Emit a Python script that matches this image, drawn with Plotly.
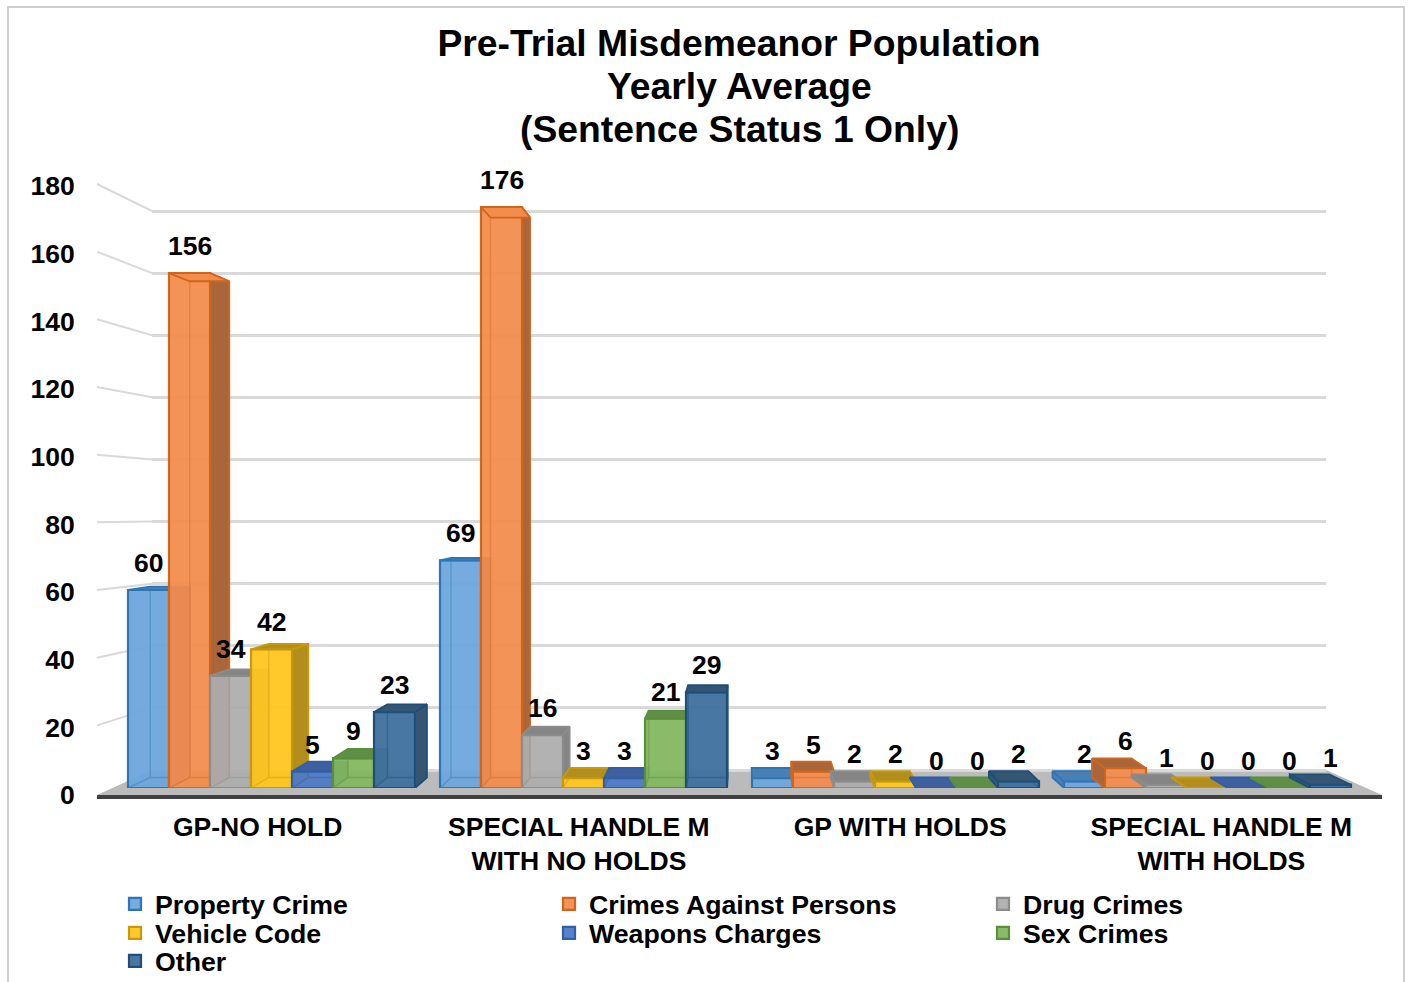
import plotly.graph_objects as go

# ---------- data ----------
categories = ["GP-NO HOLD", "SPECIAL HANDLE M<br>WITH NO HOLDS", "GP WITH HOLDS", "SPECIAL HANDLE M<br>WITH HOLDS"]
property_crime = [60, 69, 3, 2]
crimes_against_persons = [156, 176, 5, 6]
drug_crimes = [34, 16, 2, 1]
vehicle_code = [42, 3, 2, 0]
weapons_charges = [5, 3, 0, 0]
sex_crimes = [9, 21, 0, 0]
other = [23, 29, 2, 1]
series_names = ["Property Crime", "Crimes Against Persons", "Drug Crimes", "Vehicle Code",
                "Weapons Charges", "Sex Crimes", "Other"]
series_values = [property_crime, crimes_against_persons, drug_crimes, vehicle_code,
                 weapons_charges, sex_crimes, other]
y_ticks = list(range(0, 181, 20))
title_lines = ["Pre-Trial Misdemeanor Population", "Yearly Average", "(Sentence Status 1 Only)"]

# ---------- styles ----------
front_col = ["rgba(108,166,220,0.94)", "rgba(242,140,76,0.94)", "rgba(173,173,173,0.94)", "rgba(255,197,30,0.94)",
             "rgba(76,122,198,0.94)", "rgba(130,183,95,0.94)", "rgba(62,112,158,0.95)"]
edge_col = ["#2E75B6", "#D2651C", "#8C8C8C", "#C89A0A", "#2F5FA8", "#5A8F3C", "#1F4E79"]
side_col = ["#4A7FB5", "#A9663A", "#858585", "#B28E1E", "#3F5F9F", "#5F8F47", "#345673"]
W, H = 1409, 982
FONT = "Liberation Sans"
px = lambda v: v / W
py = lambda v: 1 - v / H

# planes of the fake 3-D box, in page pixels
WALL_X, WALL_Y = (152, 1326), (770, 211)
AXIS_X, AXIS_Y = (97, 1382), (795, 186)
BAR_X, BAR_Y = (115.5, 1363.5), (788, 194)
YMAX = 180
WALL_PAD = 5  # value units added around the wall axis so its 0 and 180 gridlines are drawn
bar_w = 41 / 312
depth = 0.036
vp_x = (745 - BAR_X[0]) / 312 - 0.5
vp_y = (788 - 497) / 3.3


def back(x, y):
    return x + depth * (vp_x - x), y + depth * (vp_y - y)


fig = go.Figure()
layout = dict(
    width=W, height=H, margin=dict(l=0, r=0, t=0, b=0, autoexpand=False),
    paper_bgcolor="white", plot_bgcolor="rgba(0,0,0,0)", barmode="overlay", hovermode=False,
    font=dict(family=FONT, color="black", weight=700),
)


def axes(n, xd, yd, xrange, yrange=(0, YMAX)):
    s = "" if n == 1 else str(n)
    layout[f"xaxis{s}"] = dict(domain=[px(xd[0]), px(xd[1])], range=xrange, visible=False, fixedrange=True,
                               anchor=f"y{s}")
    layout[f"yaxis{s}"] = dict(domain=[py(yd[0]), py(yd[1])], range=list(yrange), visible=False, fixedrange=True,
                               anchor=f"x{s}")
    return f"x{s}", f"y{s}"


# back wall gridlines (first subplot, lowest layer)
wall_scale = (WALL_Y[0] - WALL_Y[1]) / YMAX
xa, ya = axes(1, WALL_X,
              (WALL_Y[0] + WALL_PAD * wall_scale, WALL_Y[1] - WALL_PAD * wall_scale),
              [-0.5, 3.5], (-WALL_PAD, YMAX + WALL_PAD))
layout["yaxis"].update(visible=True, showgrid=True, gridcolor="#D9D9D9", gridwidth=2.5, zeroline=False,
                       showline=False, showticklabels=False, ticks="", tickmode="array", tickvals=y_ticks)
fig.add_trace(go.Scatter(x=[0, 3], y=[0, 0], mode="markers", marker=dict(opacity=0), showlegend=False,
                         xaxis=xa, yaxis=ya, hoverinfo="skip"))

# one subplot per series so each one paints over the previous one
annotations = []
for i, (name, vals) in enumerate(zip(series_names, series_values)):
    xa, ya = axes(i + 2, BAR_X, BAR_Y, [-0.5, 3.5])
    off = (i - 3.5) * bar_w
    lg = "legend" if i == 0 else f"legend{i + 1}"
    fig.add_trace(go.Bar(x=list(range(4)), y=vals, width=bar_w, offset=off, name=name, legend=lg,
                         marker=dict(color=front_col[i], line=dict(color=edge_col[i], width=2.2)),
                         xaxis=xa, yaxis=ya))
    sx, sy, tx, ty, hx, hy = [], [], [], [], [], []
    top_hi_x, top_hi_y = [], []
    for g, v in enumerate(vals):
        l, r = g + off, g + off + bar_w
        bl_b = back(l, 0)
        br_b = back(r, 0)
        bl_t = back(l, v)
        br_t = back(r, v)
        # visible side wall
        if br_b[0] > r:
            sx += [r, br_b[0], br_t[0], r, r, None]
            sy += [0, br_b[1], br_t[1], v, 0, None]
        if bl_b[0] < l:
            sx += [l, bl_b[0], bl_t[0], l, l, None]
            sy += [0, bl_b[1], bl_t[1], v, 0, None]
        # top face
        xs, ys = (tx, ty) if v < vp_y else (top_hi_x, top_hi_y)
        xs += [l, r, br_t[0], bl_t[0], l, None]
        ys += [v, v, br_t[1], bl_t[1], v, None]
        # hidden back edges
        hx += [l, bl_b[0], br_b[0], r, None, bl_b[0], bl_t[0], None, br_b[0], br_t[0], None]
        hy += [0, bl_b[1], br_b[1], 0, None, bl_b[1], bl_t[1], None, br_b[1], br_t[1], None]
        annotations.append(dict(x=(l + r) / 2, y=v, xref=xa, yref=ya, yshift=27, text=str(v), showarrow=False,
                                font=dict(size=26.5, family=FONT, color="black", weight=700)))
    common = dict(mode="lines", showlegend=False, hoverinfo="skip", xaxis=xa, yaxis=ya)
    fig.add_trace(go.Scatter(x=hx, y=hy, line=dict(color=edge_col[i], width=1.4), opacity=0.4, **common))
    if sx:
        fig.add_trace(go.Scatter(x=sx, y=sy, fill="toself", fillcolor=side_col[i],
                                 line=dict(color=edge_col[i], width=1.8), **common))
    if tx:
        fig.add_trace(go.Scatter(x=tx, y=ty, fill="toself", fillcolor=side_col[i],
                                 line=dict(color=edge_col[i], width=1.8), **common))
    if top_hi_x:
        fig.add_trace(go.Scatter(x=top_hi_x, y=top_hi_y, fill="toself", fillcolor=front_col[i],
                                 line=dict(color=edge_col[i], width=1.8), **common))

# tick plane: value labels, category labels, dark base line
xa, ya = axes(9, AXIS_X, AXIS_Y, [-0.5, 3.5])
layout["xaxis9"].update(visible=True, showgrid=False, zeroline=False, showline=True, linecolor="#404040", linewidth=3.5,
                        tickmode="array", tickvals=list(range(4)), ticktext=categories, ticks="outside", ticklen=5,
                        tickcolor="rgba(0,0,0,0)", tickfont=dict(size=26.5, family=FONT, color="black", weight=700))
layout["yaxis9"].update(visible=True, showgrid=False, zeroline=False, showline=False, tickmode="array",
                        tickvals=y_ticks, ticks="outside", ticklen=16, tickcolor="rgba(0,0,0,0)",
                        tickfont=dict(size=26.5, family=FONT, color="black", weight=700))
fig.add_trace(go.Scatter(x=[0, 3], y=[0, 0], mode="markers", marker=dict(opacity=0), showlegend=False,
                         xaxis=xa, yaxis=ya, hoverinfo="skip"))

# decoration: outer frame, floor, slanted grid lines on the side wall
shapes = [dict(type="path", xref="paper", yref="paper", layer="below",
               path=f"M{px(8)},{py(990)} L{px(8)},{py(7)} L{px(1404)},{py(7)} L{px(1404)},{py(990)}",
               line=dict(color="#CFCFCF", width=2)),
          dict(type="path", xref="paper", yref="paper", layer="below",
               path=f"M{px(AXIS_X[0])},{py(795)} L{px(WALL_X[0])},{py(770)} L{px(WALL_X[1])},{py(770)} "
                    f"L{px(AXIS_X[1])},{py(795)} Z",
               fillcolor="#BBBBBB", line=dict(width=0))]
for t in y_ticks[1:]:
    y0 = AXIS_Y[0] + (AXIS_Y[1] - AXIS_Y[0]) * t / YMAX
    y1 = WALL_Y[0] + (WALL_Y[1] - WALL_Y[0]) * t / YMAX
    shapes.append(dict(type="line", xref="paper", yref="paper", layer="below", x0=px(AXIS_X[0]), y0=py(y0 - 2),
                       x1=px(WALL_X[0]), y1=py(y1), line=dict(color="#D9D9D9", width=2)))
layout["shapes"] = shapes

# title: three lines with the reference's tight line spacing
layout["title"] = dict(text=title_lines[0], x=px(739), xanchor="center", y=py(43), yanchor="middle",
                       font=dict(size=37.3, family=FONT, color="black", weight=700))
for line, yp in zip(title_lines[1:], [86, 129]):
    annotations.append(dict(x=px(739), y=py(yp), xref="paper", yref="paper", text=line, showarrow=False,
                            xanchor="center", yanchor="middle",
                            font=dict(size=37.3, family=FONT, color="black", weight=700)))
layout["annotations"] = annotations

# legends: one per entry, laid out in the reference's 3-column grid
lx = [115, 549, 983]
ly = [904, 933, 961]
for i in range(7):
    key = "legend" if i == 0 else f"legend{i + 1}"
    layout[key] = dict(x=px(lx[i % 3]), y=py(ly[i // 3]), xanchor="left", yanchor="middle",
                       bgcolor="rgba(0,0,0,0)", borderwidth=0,
                       font=dict(size=26.7, family=FONT, color="black", weight=700))

fig.update_layout(**layout)
fig.write_html("out.html", config=dict(displayModeBar=False),
               post_script="document.body.style.margin='0';document.body.style.overflow='hidden';")
